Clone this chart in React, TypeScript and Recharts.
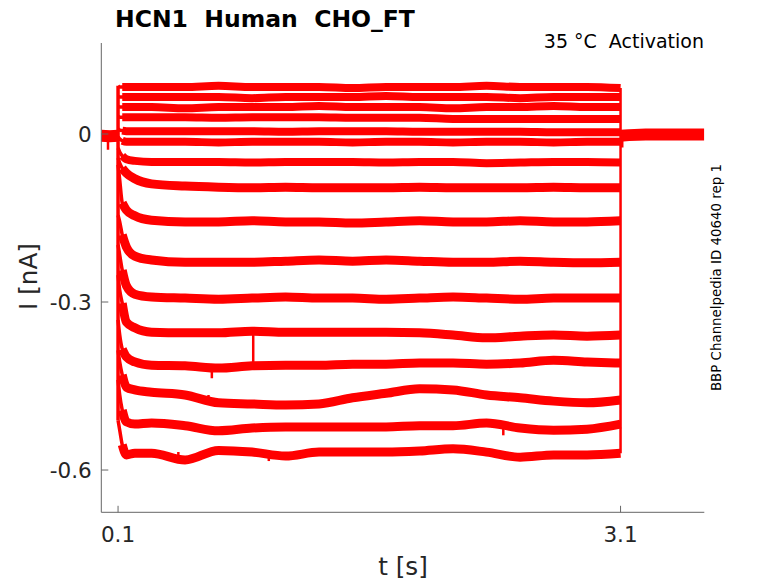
import React from 'react';
import { LineChart, Line, XAxis, YAxis } from 'recharts';

const FONT = '"DejaVu Sans", sans-serif';
const RED = '#ff0000';
const AXIS = '#666666';
const INK = '#262626';

const STEP_T = [0.1, 0.11, 0.125, 0.15, 0.2, 0.3, 0.5, 0.7, 0.9, 1.1, 1.3, 1.5, 1.7, 1.9, 2.1, 2.3, 2.5, 2.7, 2.9, 3.1];

// current (nA), one array per sweep, top to bottom
const SWEEP_01 = [0.086, 0.084, 0.084, 0.084, 0.084, 0.084, 0.084, 0.086, 0.084, 0.084, 0.084, 0.082, 0.084, 0.084, 0.084, 0.086, 0.084, 0.084, 0.084, 0.082];
const SWEEP_02 = [0.068, 0.066, 0.066, 0.066, 0.066, 0.066, 0.066, 0.066, 0.064, 0.066, 0.066, 0.066, 0.068, 0.066, 0.066, 0.066, 0.064, 0.066, 0.066, 0.066];
const SWEEP_03 = [0.05, 0.048, 0.048, 0.048, 0.048, 0.048, 0.046, 0.048, 0.048, 0.048, 0.05, 0.048, 0.048, 0.048, 0.046, 0.048, 0.048, 0.05, 0.048, 0.048];
const SWEEP_04 = [0.032, 0.03, 0.03, 0.03, 0.03, 0.03, 0.03, 0.029, 0.03, 0.03, 0.03, 0.029, 0.029, 0.029, 0.027, 0.027, 0.027, 0.027, 0.027, 0.027];
const SWEEP_05 = [0.009, 0.007, 0.006, 0.005, 0.005, 0.005, 0.005, 0.005, 0.005, 0.004, 0.005, 0.005, 0.005, 0.004, 0.004, 0.004, 0.004, 0.003, 0.003, 0.003];
const SWEEP_06 = [-0.005, -0.009, -0.012, -0.014, -0.014, -0.014, -0.014, -0.015, -0.014, -0.014, -0.014, -0.015, -0.014, -0.014, -0.015, -0.014, -0.014, -0.015, -0.014, -0.014];
const SWEEP_07 = [-0.025, -0.032, -0.039, -0.045, -0.048, -0.05, -0.05, -0.05, -0.051, -0.05, -0.05, -0.05, -0.051, -0.05, -0.05, -0.052, -0.051, -0.05, -0.05, -0.051];
const SWEEP_08 = [-0.043, -0.052, -0.061, -0.07, -0.08, -0.089, -0.093, -0.095, -0.096, -0.095, -0.096, -0.096, -0.096, -0.095, -0.096, -0.096, -0.096, -0.095, -0.096, -0.096];
const SWEEP_09 = [-0.055, -0.082, -0.123, -0.136, -0.146, -0.154, -0.157, -0.157, -0.155, -0.157, -0.157, -0.159, -0.157, -0.155, -0.157, -0.157, -0.155, -0.157, -0.157, -0.155];
const SWEEP_10 = [-0.145, -0.157, -0.18, -0.202, -0.218, -0.225, -0.229, -0.229, -0.229, -0.227, -0.225, -0.227, -0.225, -0.227, -0.229, -0.229, -0.227, -0.229, -0.23, -0.229];
const SWEEP_11 = [-0.198, -0.216, -0.243, -0.271, -0.286, -0.291, -0.293, -0.295, -0.293, -0.291, -0.293, -0.293, -0.295, -0.293, -0.291, -0.293, -0.295, -0.293, -0.293, -0.293];
const SWEEP_12 = [-0.252, -0.279, -0.302, -0.336, -0.346, -0.354, -0.355, -0.355, -0.352, -0.354, -0.354, -0.354, -0.354, -0.355, -0.359, -0.364, -0.361, -0.359, -0.361, -0.359];
const SWEEP_13 = [-0.332, -0.359, -0.384, -0.398, -0.407, -0.413, -0.414, -0.418, -0.414, -0.413, -0.413, -0.411, -0.411, -0.409, -0.409, -0.411, -0.409, -0.404, -0.407, -0.409];
const SWEEP_14 = [-0.386, -0.407, -0.43, -0.452, -0.457, -0.461, -0.466, -0.48, -0.482, -0.484, -0.482, -0.471, -0.463, -0.455, -0.457, -0.466, -0.471, -0.477, -0.48, -0.475];
const SWEEP_15 = [-0.439, -0.466, -0.493, -0.514, -0.518, -0.516, -0.521, -0.53, -0.525, -0.523, -0.523, -0.523, -0.523, -0.521, -0.521, -0.516, -0.525, -0.529, -0.527, -0.518];
const SWEEP_16 = [-0.511, -0.529, -0.555, -0.573, -0.57, -0.57, -0.582, -0.565, -0.568, -0.575, -0.568, -0.568, -0.568, -0.566, -0.562, -0.568, -0.577, -0.573, -0.573, -0.57];

const SWEEPS = [
  SWEEP_01, SWEEP_02, SWEEP_03, SWEEP_04, SWEEP_05, SWEEP_06, SWEEP_07, SWEEP_08,
  SWEEP_09, SWEEP_10, SWEEP_11, SWEEP_12, SWEEP_13, SWEEP_14, SWEEP_15, SWEEP_16,
];

// holding current before and after the step (all sweeps overlap here)
const PRE_T = [0, 0.05, 0.1];
const PRE_I = [-0.003, -0.004, -0.003];
const POST_T = [3.1, 3.15, 3.25, 3.4, 3.6];
const POST_I = [-0.003, -0.002, -0.001, -0.001, -0.001];

// short spikes in single sweeps: [t, from, to]
const GLITCHES = [
  [0.04, -0.003, -0.028],
  [0.907, -0.352, -0.407],
  [0.66, -0.416, -0.436],
  [0.64, -0.466, -0.482],
  [2.4, -0.521, -0.538],
  [1.0, -0.568, -0.584],
  [0.46, -0.568, -0.586],
  [3.11, -0.004, -0.024],
];

const X_TICKS = [0.1, 3.1];
const Y_TICKS = [-0.6, -0.3, 0];

const toPoints = (ts: number[], vs: number[]) => ts.map((t, k) => ({ t, i: vs[k] }));

const firsts = SWEEPS.map((v) => v[0]);
const lasts = SWEEPS.map((v) => v[v.length - 1]);
const onset = [
  { t: STEP_T[0], i: Math.max(...firsts) },
  { t: STEP_T[0], i: Math.min(...firsts) },
];
const offset = [
  { t: STEP_T[STEP_T.length - 1], i: Math.max(...lasts) },
  { t: STEP_T[STEP_T.length - 1], i: Math.min(...lasts) },
];

const XTick = (props: any) => {
  const { x, y, payload } = props;
  return (
    <g>
      <line x1={x} x2={x} y1={y} y2={y - 6.5} stroke={AXIS} strokeWidth={1} />
      <text x={x} y={y + 30} textAnchor="middle" fontSize={21.5} fill={INK} fontFamily={FONT}>
        {String(payload.value)}
      </text>
    </g>
  );
};

const YTick = (props: any) => {
  const { x, y, payload } = props;
  return (
    <g>
      <line x1={x} x2={x + 7} y1={y} y2={y} stroke={AXIS} strokeWidth={1} />
      <text x={x - 9.5} y={y} dy="0.36em" textAnchor="end" fontSize={21.5} fill={INK} fontFamily={FONT}>
        {String(payload.value)}
      </text>
    </g>
  );
};

const lineProps = {
  dataKey: 'i',
  stroke: RED,
  dot: false,
  activeDot: false,
  isAnimationActive: false,
  strokeLinejoin: 'round' as const,
  type: 'linear' as const,
};

export default function App() {
  return (
    <div style={{ position: 'absolute', left: 0, top: 0, width: 778, height: 583, background: '#fff' }}>
      <LineChart width={778} height={583} margin={{ top: 43, right: 73.7, bottom: 40.7, left: 41.3 }}>
        <XAxis
          type="number"
          dataKey="t"
          domain={[0, 3.6]}
          ticks={X_TICKS}
          interval={0}
          allowDataOverflow
          height={30}
          tickSize={0}
          tickMargin={0}
          tickLine={false}
          axisLine={{ stroke: AXIS, strokeWidth: 1 }}
          tick={<XTick />}
        />
        <YAxis
          type="number"
          domain={[-0.6755, 0.1625]}
          ticks={Y_TICKS}
          interval={0}
          allowDataOverflow
          width={60}
          tickSize={0}
          tickMargin={0}
          tickLine={false}
          axisLine={{ stroke: AXIS, strokeWidth: 1 }}
          tick={<YTick />}
        />
        <Line {...lineProps} data={toPoints(PRE_T, PRE_I)} strokeWidth={12} />
        <Line {...lineProps} data={toPoints(POST_T, POST_I)} strokeWidth={12} />
        {SWEEPS.map((v, n) => (
          <Line
            key={`rise${n}`}
            {...lineProps}
            type="monotone"
            data={toPoints(STEP_T.slice(0, 5), v.slice(0, 5))}
            strokeWidth={3.5}
          />
        ))}
        {SWEEPS.map((v, n) => (
          <Line
            key={`hold${n}`}
            {...lineProps}
            type="monotone"
            data={toPoints(STEP_T.slice(2), v.slice(2))}
            strokeWidth={n < 7 ? 8 : 9}
          />
        ))}
        {GLITCHES.map(([t, a, b], n) => (
          <Line key={`g${n}`} {...lineProps} data={[{ t, i: a }, { t, i: b }]} strokeWidth={2.5} />
        ))}
        <Line {...lineProps} data={onset} strokeWidth={3.5} />
        <Line {...lineProps} data={offset} strokeWidth={2.5} />
      </LineChart>
      <svg
        width={778}
        height={583}
        style={{ position: 'absolute', left: 0, top: 0, pointerEvents: 'none' }}
        fontFamily={FONT}
      >
        <text x={115} y={27} fontSize={23.5} fontWeight="bold" fill="#000" style={{ whiteSpace: 'pre' }}>
          {'HCN1  Human  CHO_FT'}
        </text>
        <text x={704} y={48} fontSize={19} textAnchor="end" fill="#000" style={{ whiteSpace: 'pre' }}>
          {'35 °C  Activation'}
        </text>
        <text x={403} y={575} fontSize={24.7} textAnchor="middle" fill={INK}>
          t [s]
        </text>
        <text x={37} y={276.5} fontSize={24.7} textAnchor="middle" fill={INK} transform="rotate(-90 37 276.5)">
          I [nA]
        </text>
        <text x={721} y={277.5} fontSize={13.4} textAnchor="middle" fill="#000" transform="rotate(-90 721 277.5)">
          BBP Channelpedia ID 40640 rep 1
        </text>
      </svg>
    </div>
  );
}
